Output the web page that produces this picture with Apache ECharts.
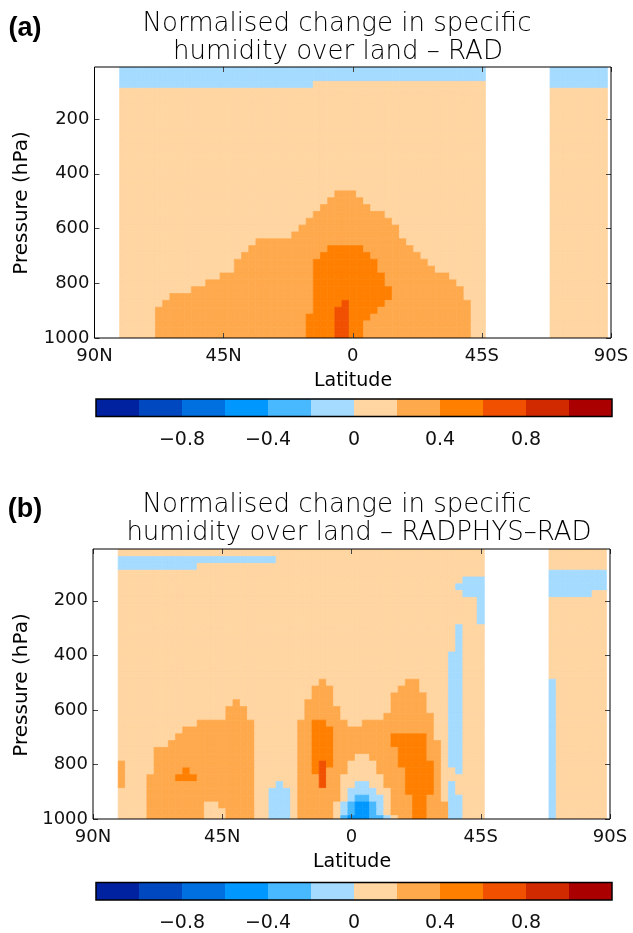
<!DOCTYPE html>
<html><head><meta charset="utf-8">
<script src="https://cdn.jsdelivr.net/npm/echarts@6/dist/echarts.min.js"></script>
<style>html,body{margin:0;padding:0;background:#fff}#c{width:633px;height:933px}</style>
</head><body><div id="c"></div><script>
// ---------- data ----------
const latitudes = [90,87.5,85,82.5,80,77.5,75,72.5,70,67.5,65,62.5,60,57.5,55,52.5,50,47.5,45,42.5,40,37.5,35,32.5,30,27.5,25,22.5,20,17.5,15,12.5,10,7.5,5,2.5,0,-2.5,-5,-7.5,-10,-12.5,-15,-17.5,-20,-22.5,-25,-27.5,-30,-32.5,-35,-37.5,-40,-42.5,-45,-47.5,-50,-52.5,-55,-57.5,-60,-62.5,-65,-67.5,-70,-72.5,-75,-77.5,-80,-82.5,-85,-87.5,-90];
const pressures = [25,50,75,100,125,150,175,200,225,250,275,300,325,350,375,400,425,450,475,500,525,550,575,600,625,650,675,700,725,750,775,800,825,850,875,900,925,950,975,1000];
const latTicks = [90,45,0,-45,-90];
const pressureTicks = [200,400,600,800,1000];
const levelEdges = [-1.2,-1.0,-0.8,-0.6,-0.4,-0.2,0,0.2,0.4,0.6,0.8,1.0,1.2];
const levelColors = ['#0021a0','#0048c0','#0070e0','#0098ff','#48b8ff','#a5dbff','#ffd5a2','#ffa94d','#ff8000','#f05000','#d22a00','#ab0000'];
const colorbarLabels = [-0.8,-0.4,0,0.4,0.8];
// Level codes per cell (k -> value between levelEdges[k] and levelEdges[k+1]); '.' = no land.
// one row per pressure level (top to bottom), one char per latitude (90N -> 90S)
const radRows = [
".... 5555555555 5555555555 5555555555 5555555555 5555555555 5 ......... 55555555 .",
".... 5555555555 5555555555 5555555555 5555555555 5555555555 5 ......... 55555555 .",
".... 5555555555 5555555555 5555555666 6666666666 6666666666 6 ......... 55555555 .",
".... 6666666666 6666666666 6666666666 6666666666 6666666666 6 ......... 66666666 .",
".... 6666666666 6666666666 6666666666 6666666666 6666666666 6 ......... 66666666 .",
".... 6666666666 6666666666 6666666666 6666666666 6666666666 6 ......... 66666666 .",
".... 6666666666 6666666666 6666666666 6666666666 6666666666 6 ......... 66666666 .",
".... 6666666666 6666666666 6666666666 6666666666 6666666666 6 ......... 66666666 .",
".... 6666666666 6666666666 6666666666 6666666666 6666666666 6 ......... 66666666 .",
".... 6666666666 6666666666 6666666666 6666666666 6666666666 6 ......... 66666666 .",
".... 6666666666 6666666666 6666666666 6666666666 6666666666 6 ......... 66666666 .",
".... 6666666666 6666666666 6666666666 6666666666 6666666666 6 ......... 66666666 .",
".... 6666666666 6666666666 6666666666 6666666666 6666666666 6 ......... 66666666 .",
".... 6666666666 6666666666 6666666666 6666666666 6666666666 6 ......... 66666666 .",
".... 6666666666 6666666666 6666666666 6666666666 6666666666 6 ......... 66666666 .",
".... 6666666666 6666666666 6666666666 6666666666 6666666666 6 ......... 66666666 .",
".... 6666666666 6666666666 6666666666 6666666666 6666666666 6 ......... 66666666 .",
".... 6666666666 6666666666 6666666666 6666666666 6666666666 6 ......... 66666666 .",
".... 6666666666 6666666666 6666666666 7776666666 6666666666 6 ......... 66666666 .",
".... 6666666666 6666666666 6666666667 7777666666 6666666666 6 ......... 66666666 .",
".... 6666666666 6666666666 6666666677 7777766666 6666666666 6 ......... 66666666 .",
".... 6666666666 6666666666 6666666777 7777777666 6666666666 6 ......... 66666666 .",
".... 6666666666 6666666666 6666667777 7777777766 6666666666 6 ......... 66666666 .",
".... 6666666666 6666666666 6666677777 7777777776 6666666666 6 ......... 66666666 .",
".... 6666666666 6666666666 6666777777 7777777776 6666666666 6 ......... 66666666 .",
".... 6666666666 6666666667 7777777777 7777777777 6666666666 6 ......... 66666666 .",
".... 6666666666 6666666677 7777777778 8888777777 7666666666 6 ......... 66666666 .",
".... 6666666666 6666666777 7777777788 8888877777 7766666666 6 ......... 66666666 .",
".... 6666666666 6666667777 7777777888 8888887777 7776666666 6 ......... 66666666 .",
".... 6666666666 6666667777 7777777888 8888887777 7777666666 6 ......... 66666666 .",
".... 6666666666 6666777777 7777777888 8888888777 7777776666 6 ......... 66666666 .",
".... 6666666666 6677777777 7777777888 8888888777 7777777666 6 ......... 66666666 .",
".... 6666666666 7777777777 7777777888 8888888877 7777777766 6 ......... 66666666 .",
".... 6666666777 7777777777 7777777888 8888888877 7777777766 6 ......... 66666666 .",
".... 6666667777 7777777777 7777777888 8988888777 7777777776 6 ......... 66666666 .",
".... 6666677777 7777777777 7777777888 9988887777 7777777776 6 ......... 66666666 .",
".... 6666677777 7777777777 7777778888 9988877777 7777777776 6 ......... 66666666 .",
".... 6666677777 7777777777 7777778888 9988777777 7777777776 6 ......... 66666666 .",
".... 6666677777 7777777777 7777778888 9988777777 7777777776 6 ......... 66666666 .",
".... 6666677777 7777777777 7777778888 9988777777 7777777776 6 ......... 66666666 ."
];
const radphysRows = [
".... 6666666666 6666666666 6666666666 6666666666 6666666666 6 ......... 66666666 .",
".... 5555555555 5555555555 5566666666 6666666666 6666666666 6 ......... 66666666 .",
".... 5555555555 5666666666 6666666666 6666666666 6666666666 6 ......... 66666666 .",
".... 6666666666 6666666666 6666666666 6666666666 6666666666 6 ......... 55555555 .",
".... 6666666666 6666666666 6666666666 6666666666 6666666655 5 ......... 55555555 .",
".... 6666666666 6666666666 6666666666 6666666666 6666666555 5 ......... 55555555 .",
".... 6666666666 6666666666 6666666666 6666666666 6666666655 5 ......... 55555566 .",
".... 6666666666 6666666666 6666666666 6666666666 6666666666 5 ......... 66666666 .",
".... 6666666666 6666666666 6666666666 6666666666 6666666666 5 ......... 66666666 .",
".... 6666666666 6666666666 6666666666 6666666666 6666666666 5 ......... 66666666 .",
".... 6666666666 6666666666 6666666666 6666666666 6666666666 5 ......... 66666666 .",
".... 6666666666 6666666666 6666666666 6666666666 6666666566 6 ......... 66666666 .",
".... 6666666666 6666666666 6666666666 6666666666 6666666566 6 ......... 66666666 .",
".... 6666666666 6666666666 6666666666 6666666666 6666666566 6 ......... 66666666 .",
".... 6666666666 6666666666 6666666666 6666666666 6666666566 6 ......... 66666666 .",
".... 6666666666 6666666666 6666666666 6666666666 6666665566 6 ......... 66666666 .",
".... 6666666666 6666666666 6666666666 6666666666 6666665566 6 ......... 66666666 .",
".... 6666666666 6666666666 6666666666 6666666666 6666665566 6 ......... 66666666 .",
".... 6666666666 6666666666 6666666666 6666666666 6666665566 6 ......... 66666666 .",
".... 6666666666 6666666666 6666666676 6666666666 7766665566 6 ......... 56666666 .",
".... 6666666666 6666666666 6666666777 6666666667 7766665566 6 ......... 56666666 .",
".... 6666666666 6666666666 6666666777 6666666677 7776665566 6 ......... 56666666 .",
".... 6666666666 6666667666 6666667777 6666666677 7776665566 6 ......... 56666666 .",
".... 6666666666 6666677766 6666667777 7666666677 7776665566 6 ......... 56666666 .",
".... 6666666666 6666677766 6666667777 7666666777 7777665566 6 ......... 56666666 .",
".... 6666666666 6777777776 6666677887 7766777777 7777665566 6 ......... 56666666 .",
".... 6666666667 7777777776 6666677888 7777777777 7777665566 6 ......... 56666666 .",
".... 6666666677 7777777776 6666677888 7777777788 8887665566 6 ......... 56666666 .",
".... 6666666777 7777777776 6666677888 7777777788 8887765566 6 ......... 56666666 .",
".... 6666677777 7777777776 6666677888 7777777778 8887765566 6 ......... 56666666 .",
".... 6666677777 7777777776 6666677888 7776677778 8887765566 6 ......... 56666666 .",
".... 7666677777 7777777776 6666677898 7766667778 8888765566 6 ......... 56666666 .",
".... 7666677778 7777777776 6666677897 7766667777 8888766566 6 ......... 56666666 .",
".... 7666777788 8777777776 6666677797 7666666777 8888766666 6 ......... 56666666 .",
".... 7666777777 7777777776 6656677797 7665566777 8888765666 6 ......... 56666666 .",
".... 6666777777 7777777776 6555677777 7655556677 8888765666 6 ......... 56666666 .",
".... 6666777777 7777777776 6555677777 7654455677 7887765566 6 ......... 56666666 .",
".... 6666777777 7766777776 6555677777 6543345677 7887775566 6 ......... 56666666 .",
".... 6666777777 7766677776 6555677777 6543345677 7887775566 6 ......... 56666666 .",
".... 6666777777 7766677776 6555677777 6433344567 7887775566 6 ......... 56666666 ."
];

// ---------- build ----------
const P_MIN = 10, P_MAX = 1000;
function cells(rows) {
  const out = [];
  rows.forEach((raw, j) => {
    const row = raw.replace(/ /g, '');
    if (row.length !== latitudes.length) console.error('row', j, 'length', row.length);
    const pTop = j === 0 ? P_MIN : (pressures[j - 1] + pressures[j]) / 2;
    const pBot = j === pressures.length - 1 ? P_MAX : (pressures[j] + pressures[j + 1]) / 2;
    for (let i = 0; i < row.length; i++) {
      const ch = row[i];
      if (ch === '.') continue;
      const k = parseInt(ch, 16);
      const value = (levelEdges[k] + levelEdges[k + 1]) / 2;
      const latN = i === 0 ? 90 : (latitudes[i - 1] + latitudes[i]) / 2;
      const latS = i === latitudes.length - 1 ? -90 : (latitudes[i] + latitudes[i + 1]) / 2;
      out.push([latN, latS, pTop, pBot, value]);
    }
  });
  return out;
}
function colorOf(v) {
  for (let k = 0; k < levelColors.length; k++) if (v < levelEdges[k + 1]) return levelColors[k];
  return levelColors[levelColors.length - 1];
}
function cellSeries(rows, ax) {
  return {
    type: 'custom', xAxisIndex: ax, yAxisIndex: ax, clip: true, silent: true,
    data: cells(rows), encode: { x: [0, 1], y: [2, 3] },
    renderItem(params, api) {
      const a = api.coord([api.value(0), api.value(2)]);
      const b = api.coord([api.value(1), api.value(3)]);
      const c = colorOf(api.value(4));
      return { type: 'rect',
        shape: { x: Math.min(a[0], b[0]), y: Math.min(a[1], b[1]), width: Math.abs(b[0] - a[0]), height: Math.abs(b[1] - a[1]) },
        style: { fill: c, stroke: c, lineWidth: 0.7 } };
    }
  };
}
function colorbarSeries(ax) {
  const data = levelColors.map((c, k) => [levelEdges[k], levelEdges[k + 1], (levelEdges[k] + levelEdges[k + 1]) / 2]);
  return {
    type: 'custom', xAxisIndex: ax, yAxisIndex: ax, silent: true, data, encode: { x: [0, 1] },
    renderItem(params, api) {
      const a = api.coord([api.value(0), 1]);
      const b = api.coord([api.value(1), 0]);
      return { type: 'rect', shape: { x: a[0], y: a[1], width: b[0] - a[0], height: b[1] - a[1] },
        style: { fill: colorOf(api.value(2)) } };
    }
  };
}
const FONT = 'DejaVu Sans';
const latFmt = v => v > 0 ? v + 'N' : (v < 0 ? (-v) + 'S' : '0');
function latAxis(grid, pos, labels) {
  return { type: 'value', gridIndex: grid, position: pos, min: -90, max: 90, interval: 45, inverse: true, z: 8,
    axisLine: { show: false, onZero: false }, splitLine: { show: false },
    axisTick: { show: true, inside: true, length: 5, lineStyle: { color: '#444', width: 1 } },
    axisLabel: { show: labels, margin: 9, color: '#111', fontFamily: FONT, fontSize: 18, formatter: latFmt } };
}
function pAxis(grid, pos, labels) {
  return { type: 'value', gridIndex: grid, position: pos, min: P_MIN, max: P_MAX, inverse: true, z: 8,
    axisLine: { show: false, onZero: false }, splitLine: { show: false },
    axisTick: { show: true, inside: true, length: 5, customValues: pressureTicks, lineStyle: { color: '#444', width: 1 } },
    axisLabel: { show: labels, margin: 5, customValues: pressureTicks, color: '#111', fontFamily: FONT, fontSize: 18,
      formatter: v => String(v) } };
}
function cbAxis(grid) {
  return { type: 'value', gridIndex: grid, min: -1.2, max: 1.2, axisLine: { show: false, onZero: false }, axisTick: { show: false }, splitLine: { show: false },
    axisLabel: { customValues: colorbarLabels, margin: 14, color: '#111', fontFamily: FONT, fontSize: 19,
      formatter: v => (v < 0 ? '\u2212' + (-v) : String(v)) } };
}
const frame = { show: true, z: 10, backgroundColor: 'transparent', borderColor: '#000', borderWidth: 1 };
function txt(x, y, text, font, extra) {
  return Object.assign({ type: 'text', x, y, style: { text, fill: '#000', font, align: 'center', verticalAlign: 'middle' } }, extra || {});
}
const TITLE_FONT = '200 26px "DejaVu Sans"';
const BOLD_FONT = 'bold 27px "Liberation Sans"';
const option = {
  animation: false,
  backgroundColor: '#fff',
  grid: [
    Object.assign({ left: 94.5, top: 67, width: 516.5, height: 271 }, frame),
    Object.assign({ left: 93, top: 549, width: 517, height: 270 }, frame),
    Object.assign({ left: 96, top: 399, width: 516, height: 17.5 }, frame, { borderWidth: 1.5 }),
    Object.assign({ left: 96, top: 882.5, width: 516, height: 17.5 }, frame, { borderWidth: 1.5 })
  ],
  xAxis: [latAxis(0, 'bottom', true), latAxis(1, 'bottom', true), cbAxis(2), cbAxis(3), latAxis(0, 'top', false), latAxis(1, 'top', false)],
  yAxis: [pAxis(0, 'left', true), pAxis(1, 'left', true),
    { type: 'value', gridIndex: 2, min: 0, max: 1, show: false },
    { type: 'value', gridIndex: 3, min: 0, max: 1, show: false },
    pAxis(0, 'right', false), pAxis(1, 'right', false)],
  series: [cellSeries(radRows, 0), cellSeries(radphysRows, 1), colorbarSeries(2), colorbarSeries(3)],
  graphic: [
    txt(25, 29, '(a)', BOLD_FONT),
    txt(337, 24, 'Normalised change in specific', TITLE_FONT),
    txt(338, 52, 'humidity over land \u2013 RAD', TITLE_FONT),
    txt(353, 381, 'Latitude', '19px "DejaVu Sans"'),
    txt(22, 203, 'Pressure (hPa)', '20px "DejaVu Sans"', { rotation: Math.PI / 2 }),
    txt(25, 510, '(b)', BOLD_FONT),
    txt(337, 505, 'Normalised change in specific', TITLE_FONT),
    txt(359, 533, 'humidity over land \u2013 RADPHYS\u2013RAD', TITLE_FONT),
    txt(352, 862, 'Latitude', '19px "DejaVu Sans"'),
    txt(22, 685, 'Pressure (hPa)', '20px "DejaVu Sans"', { rotation: Math.PI / 2 })
  ]
};
const chart = echarts.init(document.getElementById('c'), null, { renderer: 'canvas' });
chart.setOption(option);
</script></body></html>
